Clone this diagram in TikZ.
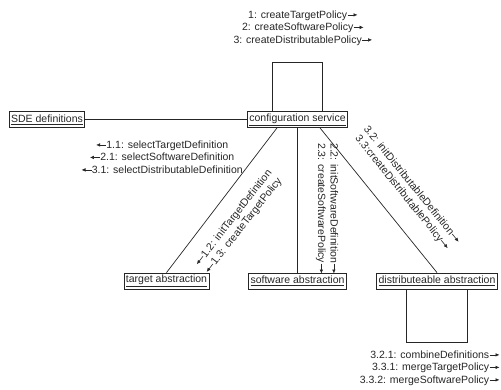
\documentclass[tikz,border=0pt]{standalone}
\usepackage{fontspec}
\setmainfont{Liberation Sans}
\usetikzlibrary{arrows.meta}
\newcommand{\rarr}{\tikz[baseline=-0.6ex]\draw[-{Latex[length=4pt,width=3.6pt]},line width=0.6pt] (0pt,0pt)--(10pt,0pt);}
\newcommand{\larr}{\tikz[baseline=-0.6ex]\draw[{Latex[length=4pt,width=3.6pt]}-,line width=0.6pt] (0pt,0pt)--(10pt,0pt);}
\begin{document}
\begin{tikzpicture}[x=1pt,y=-1pt,
  every node/.style={font=\fontsize{10.5}{12.5}\selectfont, inner sep=0pt, text=black!85},
  obj/.style={draw=black!85, line width=0.8pt, minimum height=16pt, inner xsep=2pt, inner ysep=0pt},
  conn/.style={draw=black!85, line width=0.7pt}]
\useasboundingbox (0,0) rectangle (501,389);
\node[obj] (cfg) at (297.5,119.5) {\underline{configuration service}};
\node[obj] (sde) at (47,119.5) {\underline{SDE definitions}};
\node[obj] (tgt) at (166.5,281) {\underline{target abstraction}};
\node[obj] (sw) at (297.5,281) {\underline{software abstraction}};
\node[obj] (dst) at (437,281) {\underline{distributeable abstraction}};
\draw[conn] (sde) -- (cfg);
\draw[conn] ([xshift=-20.5pt]cfg.south) -- (tgt.north);
\draw[conn] (cfg.south) -- (sw.north);
\draw[conn] ([xshift=22.5pt]cfg.south) -- (dst.north);
\draw[conn] ([xshift=-25.5pt]cfg.north) -- ++(0,-49) -- ++(50,0) -- ++(0,49);
\draw[conn] ([xshift=-31pt]dst.south) -- ++(0,53) -- ++(61,0) -- ++(0,-53);
\node[align=center] (lt) at (303,28) {1: createTargetPolicy\rarr\\2: createSoftwarePolicy\rarr\\3: createDistributablePolicy\rarr};
\node[align=center] (ll) at (162,157) {\larr1.1: selectTargetDefinition\\\larr2.1: selectSoftwareDefinition\\\larr3.1: selectDistributableDefinition};
\node[align=right, anchor=east] (lb) at (500,368) {3.2.1: combineDefinitions\rarr\\3.3.1: mergeTargetPolicy\rarr\\3.3.2: mergeSoftwarePolicy\rarr};
\node[align=left, rotate=52] (ltg) at (238.5,222) {\larr1.2: initTargetDefinition\\\larr1.3: createTargetPolicy};
\node[align=right, rotate=-90, anchor=east] (lsw) at (327,274) {2.2: initSoftwareDefinition\rarr\\2.3: createSoftwarePolicy\rarr};
\node[align=center, rotate=-51] (ldst) at (407,189) {3.2: initDistributableDefinition\rarr\\3.3:createDistributablePolicy\rarr};
\end{tikzpicture}
\end{document}
